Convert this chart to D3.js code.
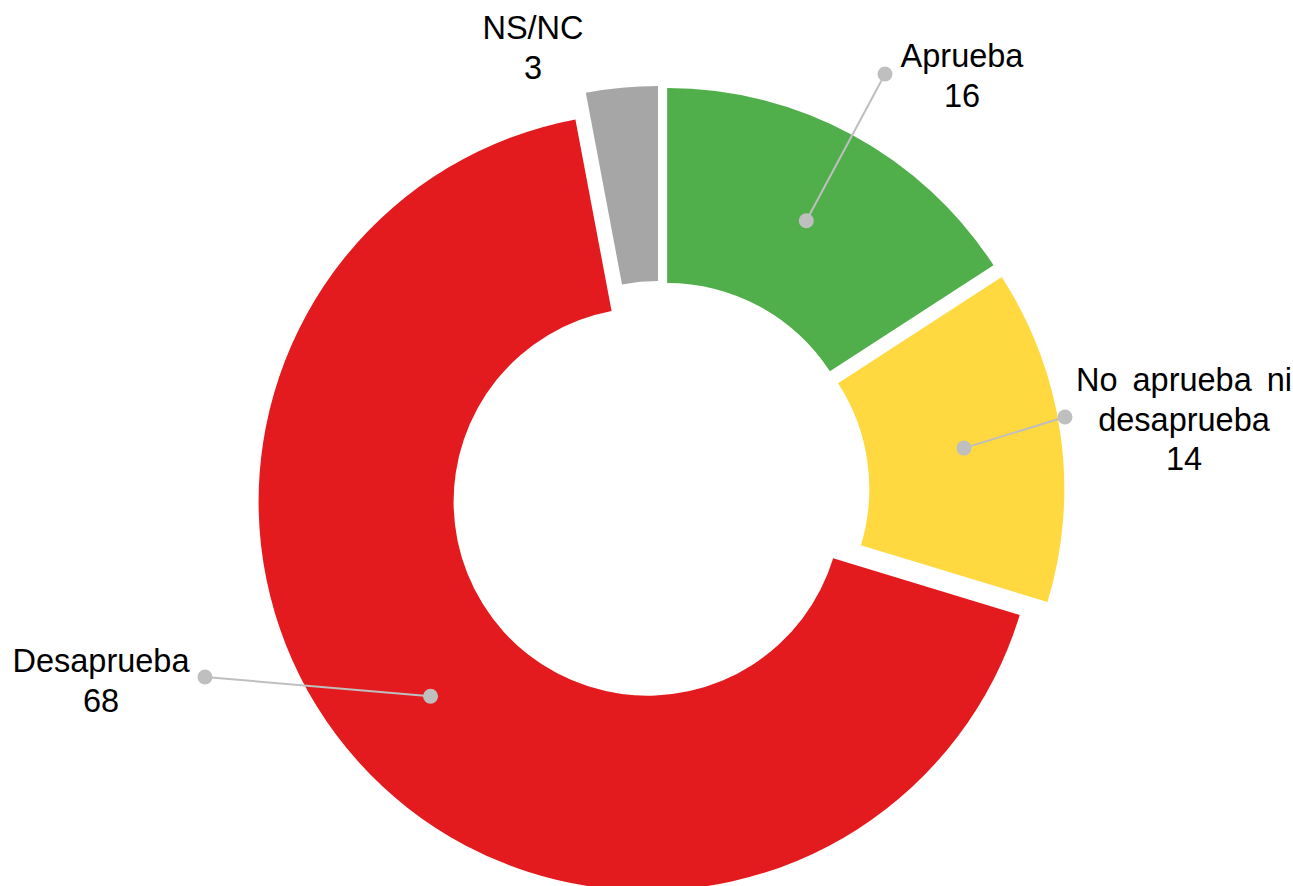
<!DOCTYPE html>
<html>
<head>
<meta charset="utf-8">
<script src="https://cdn.jsdelivr.net/npm/d3@7"></script>
<style>
    body { margin: 0; background: #fff; }
    svg text { font-family: "Liberation Sans", Arial, sans-serif; fill: #000; }
</style>
</head>
<body>
<svg id="chart" width="1293" height="886"></svg>
<script>
// data
const categories = ["Aprueba", "No aprueba ni desaprueba", "Desaprueba", "NS/NC"];
const values = [16, 14, 68, 3];
const sliceColors = ["#50AF4B", "#FFD93F", "#E41B1E", "#A6A6A6"];
const labelLines = [["Aprueba"], ["No aprueba ni", "desaprueba"], ["Desaprueba"], ["NS/NC"]];

// layout (label boxes were placed by hand in the original)
const labelAnchors = [
    {x: 962, y: 67, dot: [885, 74]},
    {x: 1184, y: 391, dot: [1065, 417]},
    {x: 101, y: 672, dot: [205, 677]},
    {x: 533, y: 39, dot: null}
];

let width = 1293, height = 886;
let cx = 659.5, cy = 491;
let outerR = 389, innerR = 194;
let explode = 16;
let lineH = 39.5;

let svg = d3.select("#chart");
let root = svg.append("g").attr("transform", "translate(" + cx + "," + cy + ")");

let pie = d3.pie().sort(null).value(d => d.value);
let arc = d3.arc().innerRadius(innerR).outerRadius(outerR);

let rows = categories.map((c, i) => ({name: c, value: values[i], color: sliceColors[i], idx: i}));
let slices = pie(rows);

function offset(d) {
    let mid = (d.startAngle + d.endAngle) / 2;
    return [explode * Math.sin(mid), -explode * Math.cos(mid)];
}

let sliceG = root.selectAll(".slice")
    .data(slices)
    .enter().append("g")
    .attr("class", "slice")
    .attr("transform", d => "translate(" + offset(d) + ")");

sliceG.append("path")
    .attr("d", arc)
    .attr("fill", d => d.data.color);

// leader lines from the slice centroid to the label
let leaders = svg.append("g").attr("class", "leaders");
slices.forEach(d => {
    let a = labelAnchors[d.data.idx];
    if (!a.dot) return;
    let o = offset(d);
    let c = arc.centroid(d);
    let p = [cx + o[0] + c[0], cy + o[1] + c[1]];
    leaders.append("line")
        .attr("x1", p[0]).attr("y1", p[1])
        .attr("x2", a.dot[0]).attr("y2", a.dot[1])
        .attr("stroke", "#BFBFBF")
        .attr("stroke-width", 2);
    leaders.append("circle").attr("cx", p[0]).attr("cy", p[1]).attr("r", 7.5).attr("fill", "#BFBFBF");
    leaders.append("circle").attr("cx", a.dot[0]).attr("cy", a.dot[1]).attr("r", 7.5).attr("fill", "#BFBFBF");
});

let labels = svg.append("g").attr("class", "labels");
slices.forEach(d => {
    let a = labelAnchors[d.data.idx];
    let lines = labelLines[d.data.idx].concat([String(d.data.value)]);
    let t = labels.append("text")
        .attr("text-anchor", "middle")
        .attr("font-size", 32.5);
    lines.forEach((ln, k) => {
        t.append("tspan")
            .attr("x", a.x)
            .attr("y", a.y + k * lineH)
            .attr("word-spacing", ln === "No aprueba ni" ? 6 : 0)
            .text(ln);
    });
});
</script>
</body>
</html>
